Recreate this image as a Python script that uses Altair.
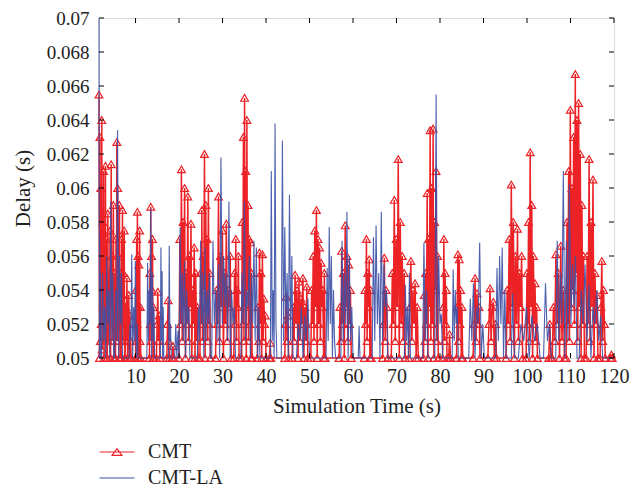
import altair as alt
import pandas as pd

# ---------------- data (delay values in ms, clusters of samples) ----------------
cmt_start = [1.6, 3.5, 5.4, 6.7, 7.6, 10.0, 13.2, 14.8, 17.2, 18.4, 20.0, 24.8, 28.4, 32.6,
             34.4, 38.0, 40.8, 44.3, 46.0, 50.3, 56.8, 62.6, 66.8, 68.8, 72.8, 76.2, 80.6,
             82.0, 83.8, 87.6, 91.0, 95.2, 99.8, 105.0, 105.8, 109.0, 113.6, 116.8, 119.2]
cmt_end = [3.4, 5.3, 6.6, 7.5, 9.0, 11.2, 14.2, 15.6, 17.8, 18.8, 24.4, 27.2, 32.0, 33.8,
           36.8, 40.0, 41.1, 45.2, 49.6, 53.6, 59.6, 64.2, 68.0, 72.0, 75.0, 79.6, 81.6,
           82.4, 85.2, 89.2, 93.0, 99.0, 102.4, 105.5, 108.6, 113.2, 116.3, 118.0, 119.6]
cmt_vals = [
    [65.5, 50, 63, 51, 60, 52, 64, 50.5, 58, 53, 61, 50, 56, 52, 61.3, 51, 57, 50],
    [50, 58.5, 51, 55, 52, 57.5, 50, 61.4, 53, 56, 51, 59, 50, 55, 50],
    [50, 57, 52, 62.7, 51, 60, 54, 56, 50, 59, 52, 55, 50],
    [50, 57, 52, 58.7, 51, 55, 53, 57.5, 50],
    [50, 53, 51, 54.7, 50, 52, 53.7, 50, 52.5, 51, 50],
    [50, 54, 51, 57, 52, 58.6, 50, 56, 53, 55.5, 50, 57.5, 51, 53, 50],
    [50, 55, 52, 58.9, 51, 56, 54, 57, 50, 53, 50],
    [50, 52, 53.9, 51, 52.5, 50],
    [50, 52, 53.4, 51, 50],
    [50, 50.7, 50],
    [50, 57, 52, 61.1, 51, 58, 53, 60, 50, 55, 52, 59.5, 51, 56, 53, 57.9, 50, 54, 52, 56.5, 50, 55, 51, 53, 50],
    [50, 55, 52, 58.7, 51, 56, 54, 62, 50, 59, 53, 57, 51, 60, 52, 55, 50],
    [50, 54, 52, 59.5, 51, 56, 53, 57.5, 50, 55, 52, 57.9, 51, 54, 53, 56, 50],
    [50, 55, 52, 57, 51, 54, 53, 56, 50],
    [50, 58, 52, 63, 51, 65.3, 53, 61, 50, 64, 54, 59, 51, 57, 52, 56.8, 50, 55, 50],
    [50, 53, 51, 56.2, 52, 55, 50, 56.1, 51, 53.5, 52, 52.5, 50],
    [50, 50.9, 50],
    [50, 52, 53.6, 51, 52.5, 50],
    [50, 53, 51, 54.9, 52, 54, 50, 54.5, 51, 53.5, 52, 54.7, 50, 53, 51, 54.2, 50],
    [50, 54, 52, 56, 51, 57.5, 53, 58.7, 50, 57, 52, 56.5, 51, 55.6, 53, 54, 50, 55, 50],
    [50, 53, 51, 56.3, 52, 55, 50, 57.8, 53, 56, 51, 55.5, 52, 54, 50],
    [50, 54, 52, 57, 51, 55, 53, 55.8, 50, 54, 50],
    [50, 52, 55.9, 51, 54, 53, 50],
    [50, 55, 52, 59.3, 51, 57, 53, 61.7, 50, 58, 52, 56, 51, 55, 50],
    [50, 53, 55.7, 51, 54, 52, 54.4, 50, 53, 50],
    [50, 53.7, 51, 55, 52, 59.7, 50, 57, 53, 63.4, 51, 60, 52, 63.5, 50, 58, 54, 61, 51, 56, 50],
    [50, 53, 57, 51, 55, 52, 54, 50],
    [50, 51.4, 50],
    [50, 53, 56.1, 51, 55.8, 52, 54, 50, 53, 50],
    [50, 52, 54.7, 51, 53.8, 52, 53, 50],
    [50, 52, 54.1, 51, 53, 53.3, 50, 52, 50],
    [50, 54, 52, 57, 51, 60.2, 53, 58, 50, 56, 52, 57.6, 51, 55, 53, 56, 50],
    [50, 55, 52, 58, 51, 62.1, 53, 59, 50, 56, 52, 54.4, 51, 53, 50],
    [50, 52, 50],
    [50, 53, 51, 56.1, 52, 55, 50, 56.6, 51, 54, 50],
    [50, 58, 52, 61, 51, 64.6, 53, 60, 54, 63, 52, 66.7, 55, 64, 51, 65, 53, 62, 50, 59, 52, 56, 50],
    [50, 56, 52, 61.7, 51, 58, 53, 60.5, 50, 55, 52, 53.7, 50],
    [50, 53, 55.7, 51, 54, 52, 50],
    [50, 50.2, 50],
]

la_start = [1.6, 2.2, 5.2, 8.5, 12.6, 15.7, 17.6, 19.0, 24.2, 27.5, 34.2, 41.0, 43.5, 47.0,
            53.8, 57.2, 61.2, 64.4, 71.8, 76.0, 78.8, 82.8, 86.6, 92.8, 96.4, 98.0, 103.8,
            106.6, 112.0, 119.0]
la_end = [2.0, 5.0, 7.0, 10.6, 14.4, 16.5, 18.2, 22.5, 27.2, 33.0, 38.6, 42.5, 46.2, 50.0,
          56.0, 60.0, 61.6, 68.0, 73.2, 77.2, 80.6, 84.2, 90.2, 95.2, 97.2, 103.0, 105.6,
          111.5, 117.4, 120.0]
la_vals = [
    [70, 50, 57, 51, 55, 50],
    [50, 55, 51, 53, 50, 56, 52, 54, 50, 59.2, 51, 55, 50],
    [50, 54, 51, 63.4, 50, 56, 52, 55, 50],
    [50, 52, 51, 56.1, 50, 53, 51, 55.7, 50, 52, 50],
    [50, 55.6, 51, 54, 52, 58.8, 50, 55, 51, 53, 50],
    [50, 56.5, 51, 55.1, 50, 53, 50],
    [50, 56.6, 51, 52, 50],
    [50, 52, 50, 51.6, 50, 57.7, 52, 55, 51, 55.7, 50, 54, 52, 53, 50],
    [50, 53, 51, 56.9, 52, 55, 50, 56.5, 51, 54, 52, 55, 50],
    [50, 56.9, 52, 54, 51, 55.5, 50, 61.8, 52, 56, 53, 55, 51, 59.2, 50, 54, 52, 53, 50],
    [50, 55, 52, 59.2, 51, 54, 53, 56, 50, 55, 52, 56.9, 51, 56.5, 50, 53, 50],
    [50, 61.0, 51, 54, 50, 63.8, 52, 50],
    [50, 62.8, 51, 57.7, 52, 55, 50, 59.6, 51, 56, 50],
    [50, 52, 51, 53, 50, 52.5, 51, 53.5, 50],
    [50, 55.3, 51, 57.7, 52, 56, 50, 54, 51, 50],
    [50, 56.9, 51, 55, 52, 58.6, 50, 56, 51, 53, 50],
    [50, 51.9, 50],
    [50, 57.1, 51, 57.8, 52, 55, 50, 58.6, 51, 55.5, 53, 54, 50],
    [50, 54.3, 51, 53, 50, 55, 50],
    [50, 56.8, 51, 54, 50],
    [50, 65.5, 51, 56, 52, 52.6, 50],
    [50, 55.2, 51, 54, 52, 53, 50],
    [50, 53.5, 51, 54.4, 50, 53, 52, 56.8, 50, 52, 50],
    [50, 55.3, 51, 56, 52, 56.5, 50, 54, 50],
    [50, 53.8, 51, 50],
    [50, 52, 51, 53, 50, 52.5, 51, 52, 50],
    [50, 54.4, 51, 52, 50],
    [50, 56.9, 51, 55, 52, 61.0, 50, 56.9, 51, 60.2, 52, 55.5, 53, 56, 50],
    [50, 54, 52, 55.5, 51, 54.3, 50, 53, 52, 54, 51, 52.5, 50],
    [50, 50],
]

series_names = ["CMT", "CMT-LA"]
series_colors = ["#ec2227", "#3a50a6"]
x_ticks = [10, 20, 30, 40, 50, 60, 70, 80, 90, 100, 110, 120]
y_ticks = [0.05, 0.052, 0.054, 0.056, 0.058, 0.06, 0.062, 0.064, 0.066, 0.068, 0.07]


def build(starts, ends, vals, name):
    rows = []
    for t0, t1, vs in zip(starts, ends, vals):
        n = len(vs)
        for i, v in enumerate(vs):
            rows.append({"t": t0 + (t1 - t0) * i / (n - 1), "v": v / 1000.0, "s": name})
    return pd.DataFrame(rows)


cmt_df = build(cmt_start, cmt_end, cmt_vals, "CMT")
la_df = build(la_start, la_end, la_vals, "CMT-LA")
xt_df = pd.DataFrame({"t": x_ticks})
yt_df = pd.DataFrame({"v": y_ticks})

W, H = 515, 340
FONT = "Liberation Serif, DejaVu Serif, serif"

xscale = alt.Scale(domain=[1.6, 120], nice=False, zero=False)
yscale = alt.Scale(domain=[0.05, 0.07], nice=False, zero=False)

xaxis = alt.Axis(values=x_ticks, ticks=False, domain=False, grid=False, labelOverlap=False,
                 labelFlush=False,
                 labelFont=FONT, labelFontSize=20, labelColor="#222", labelPadding=8,
                 title="Simulation Time (s)", titleFont=FONT, titleFontSize=21,
                 titleFontWeight="normal", titleColor="#222", titlePadding=9)
yaxis = alt.Axis(values=y_ticks, ticks=False, domain=False, grid=False, format="~g",
                 labelOverlap=False, labelFlush=False,
                 labelFont=FONT, labelFontSize=19, labelColor="#222", labelPadding=10,
                 title="Delay (s)", titleFont=FONT, titleFontSize=21,
                 titleFontWeight="normal", titleColor="#222", titlePadding=13)

tri_path = "M-2.5,0H2.5M-0.7,0.47L0,-0.47L0.7,0.47Z"
line_path = "M-2.5,0H2.5"

legend = alt.Legend(title=None, orient="none", legendX=8, legendY=424, padding=0,
                    labelFont=FONT, labelFontSize=20, labelColor="#222",
                    symbolSize=196, symbolStrokeWidth=1.2, symbolFillColor="transparent",
                    labelOffset=21, rowPadding=6)

color = alt.Color("s:N", scale=alt.Scale(domain=series_names, range=series_colors), legend=legend)
shape = alt.Shape("s:N", scale=alt.Scale(domain=series_names, range=[tri_path, line_path]), legend=legend)

x_enc = alt.X("t:Q", scale=xscale, axis=xaxis)
y_enc = alt.Y("v:Q", scale=yscale, axis=yaxis)

red_line = alt.Chart(cmt_df).mark_line(strokeWidth=1.5, clip=False).encode(
    x=x_enc, y=y_enc, color=color, order="t:Q")
red_pts = alt.Chart(cmt_df).mark_point(shape="triangle-up", filled=False, size=60,
                                       strokeWidth=1.2, opacity=1, clip=False).encode(
    x=x_enc, y=y_enc, color=color)
legend_layer = alt.Chart(cmt_df).transform_filter("false").mark_point(
    filled=False, opacity=1).encode(x=x_enc, y=y_enc, color=color, shape=shape)
blue_line = alt.Chart(la_df).mark_line(strokeWidth=1.1, opacity=0.9, clip=False).encode(
    x=x_enc, y=y_enc, color=color, order="t:Q")

tick_x = alt.X("t:Q", scale=xscale, axis=xaxis)
tick_y = alt.Y("v:Q", scale=yscale, axis=yaxis)
tb = alt.Chart(xt_df).mark_rule(color="black", strokeWidth=1).encode(
    x=tick_x, y=alt.value(H), y2=alt.value(H - 5))
tt = alt.Chart(xt_df).mark_rule(color="black", strokeWidth=1).encode(
    x=tick_x, y=alt.value(0), y2=alt.value(5))
tl = alt.Chart(yt_df).mark_rule(color="black", strokeWidth=1).encode(
    y=tick_y, x=alt.value(0), x2=alt.value(5))
tr = alt.Chart(yt_df).mark_rule(color="black", strokeWidth=1).encode(
    y=tick_y, x=alt.value(W), x2=alt.value(W - 5))

chart = alt.layer(red_line, red_pts, legend_layer, blue_line, tb, tt, tl, tr).properties(
    width=W, height=H,
    autosize=alt.AutoSizeParams(type="none"),
    padding={"left": 91, "top": 10, "right": 18, "bottom": 130},
).configure_view(stroke="black", strokeWidth=1).configure(background="white")

chart.save("out.html", embed_options={"renderer": "svg", "actions": False})
